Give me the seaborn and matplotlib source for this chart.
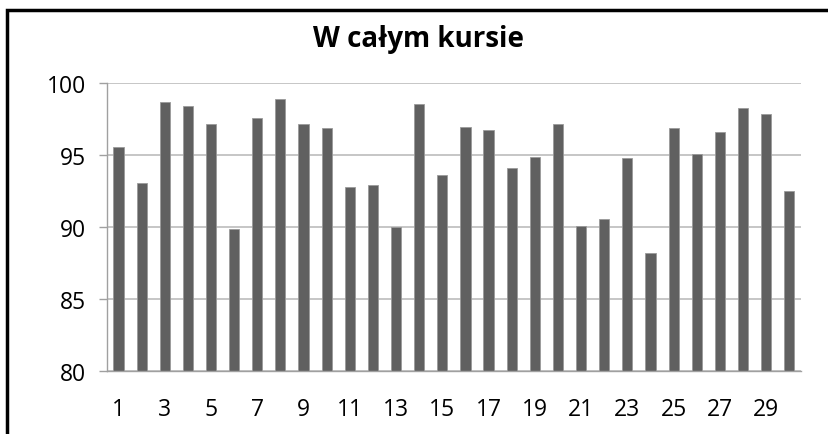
import numpy as np
import pandas as pd
import matplotlib
matplotlib.use("Agg")
import matplotlib.pyplot as plt
import seaborn as sns

# dane
dni = list(range(1, 31))
wyniki = [95.6, 93.1, 98.7, 98.4, 97.2, 89.9, 97.6, 98.9, 97.2, 96.9,
          92.8, 92.9, 90.0, 98.6, 93.65, 97.0, 96.75, 94.1, 94.9, 97.2,
          90.1, 90.55, 94.8, 88.2, 96.9, 95.1, 96.6, 98.3, 97.9, 92.5]
y_ticks = [80, 85, 90, 95, 100]
tytul = "W całym kursie"

df = pd.DataFrame({"dzien": dni, "wynik": wyniki})

sns.set_theme(style="white")
plt.rcParams['font.family'] = ['Open Sans', 'DejaVu Sans']

fig = plt.figure(figsize=(8.29, 4.35), dpi=100)
ax = fig.add_axes([0.129, 0.145, 0.837, 0.661])

sns.barplot(data=df, x="dzien", y="wynik", color="#606060", saturation=1,
            width=0.44, ax=ax, edgecolor="#9a9a9a", linewidth=0.6)

ax.set_ylim(80, 100)
ax.set_xlim(-0.5, len(dni) - 0.5)
ax.set_yticks(y_ticks)
ax.yaxis.grid(True, color="#bcbcbc", linewidth=1.2)
ax.set_axisbelow(True)

# etykiety co druga kategoria, kreski między kategoriami
ax.set_xticks(range(0, len(dni), 2))
ax.set_xticklabels([str(d) for d in dni[::2]])
ax.set_xticks(np.arange(-0.5, len(dni), 1), minor=True)
ax.tick_params(axis="x", which="major", length=0, pad=19, labelsize=16.5,
               labelcolor="black")
ax.tick_params(axis="x", which="minor", length=6, color="#a0a0a0", width=1)
ax.tick_params(axis="y", length=6, color="#a0a0a0", width=1, pad=9,
               labelsize=16.5, labelcolor="black", left=True)

for s in ["top", "right"]:
    ax.spines[s].set_visible(False)
for s in ["left", "bottom"]:
    ax.spines[s].set_color("#a0a0a0")
    ax.spines[s].set_linewidth(1)

ax.set_xlabel("")
ax.set_ylabel("")

fig.text(0.505, 0.91, tytul, ha="center", va="center", color="black",
         fontsize=20, fontweight="bold")

# ramka wykresu (ucięta z prawej i od dołu)
fig.patches.append(plt.Rectangle((7.5 / 829, -0.1), 1.2, 1 - 10.5 / 435 + 0.1,
                                 transform=fig.transFigure, fill=False,
                                 edgecolor="black", linewidth=2.5))

fig.savefig("out.png", dpi=100)
